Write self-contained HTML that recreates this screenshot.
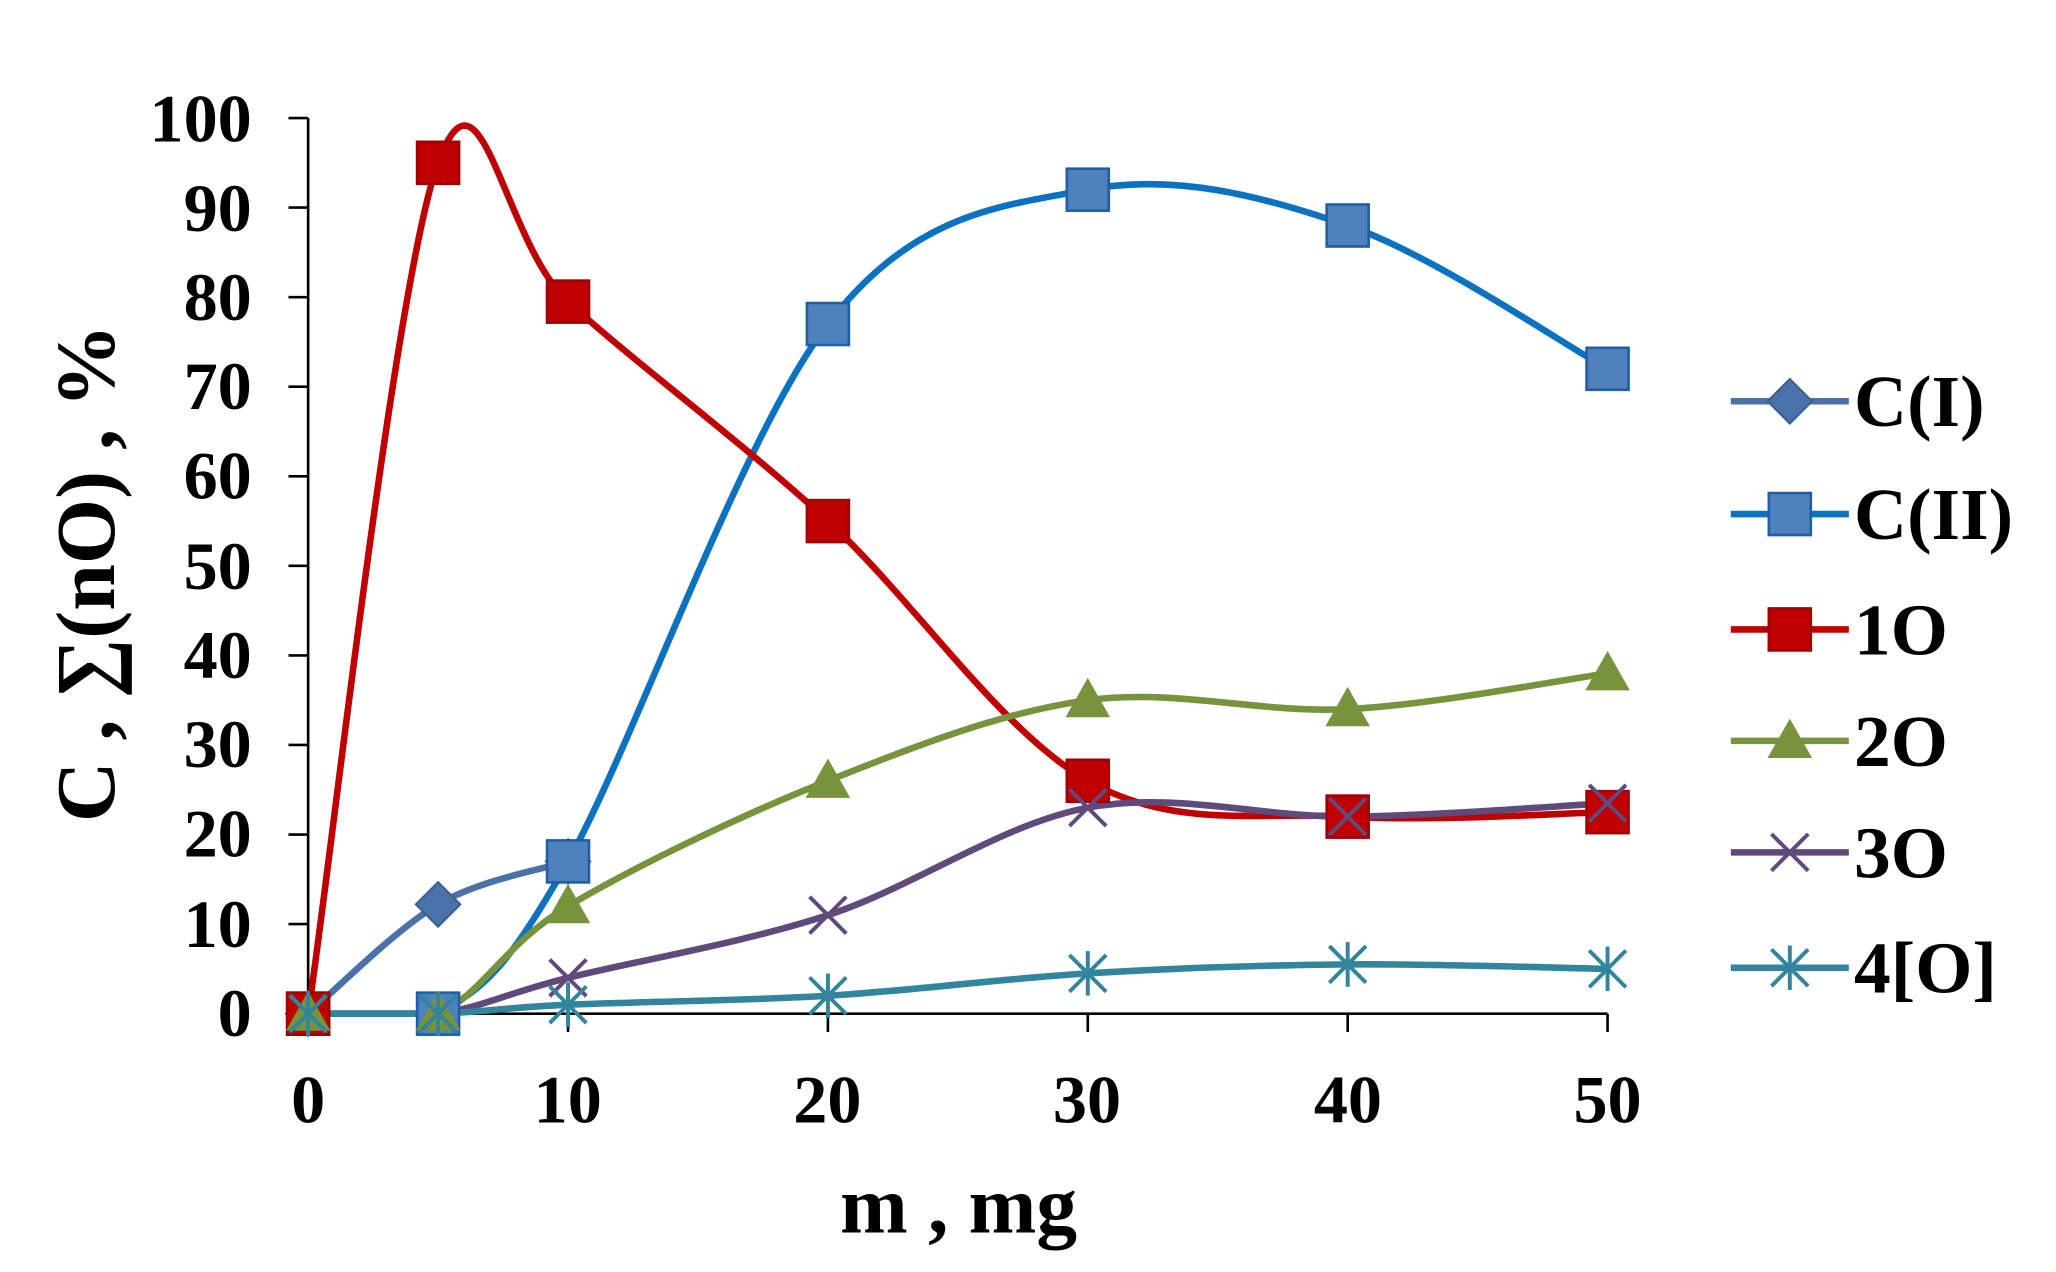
<!DOCTYPE html>
<html><head><meta charset="utf-8"><style>html,body{margin:0;padding:0;background:#fff}svg{display:block}</style></head>
<body>
<svg id="s" width="2056" height="1272" viewBox="0 0 1568 970" preserveAspectRatio="none" xmlns="http://www.w3.org/2000/svg" font-family="'Liberation Serif',serif" font-weight="bold">
<rect width="1568" height="970" fill="#fff"/>
<g stroke="#000" stroke-width="2">
<line x1="235" y1="90" x2="235" y2="773"/>
<line x1="235" y1="773" x2="1226" y2="773"/>
<g id="ticks"></g>
</g>
<g font-size="52" text-anchor="end">
<text x="192" y="790">0</text><text x="192" y="722">10</text><text x="192" y="653">20</text><text x="192" y="585">30</text><text x="192" y="517">40</text><text x="192" y="449">50</text><text x="192" y="380">60</text><text x="192" y="312">70</text><text x="192" y="244">80</text><text x="192" y="176">90</text><text x="192" y="108">100</text>
</g>
<g font-size="52" text-anchor="middle">
<text x="235" y="856">0</text><text x="433" y="856">10</text><text x="631" y="856">20</text><text x="829" y="856">30</text><text x="1028" y="856">40</text><text x="1226" y="856">50</text>
</g>
<text x="731" y="940" font-size="62" text-anchor="middle">m , mg</text>
<text transform="translate(87,437) rotate(-90)" font-size="64" text-anchor="middle">C , ∑(nO) , %</text>
<g id="series"></g>
<g id="legend" font-size="56"></g>
</svg>
<script>
var NS="http://www.w3.org/2000/svg";
function X(v){return 235+v*19.82}function Y(v){return 773-v*6.83}
function el(t,a,p){var e=document.createElementNS(NS,t);for(var k in a)e.setAttribute(k,a[k]);p.appendChild(e);return e}
var tk=document.getElementById('ticks');
for(var i=0;i<=10;i++)el('line',{x1:220,x2:235,y1:Y(i*10),y2:Y(i*10)},tk);
[0,10,20,30,40,50].forEach(function(v){el('line',{x1:X(v),x2:X(v),y1:773,y2:787},tk)});
var xs=[0,5,10,20,30,40,50];
var S=[
 {n:'C(I)',c:'#4a72a8',m:'diamond',f:'#4a72a8',x:[0,5,10],y:[0,12.2,17]},
 {n:'C(II)',c:'#0a72c0',m:'square',f:'#4f81bd',x:xs,y:[0,0,17,77,92,88,72]},
 {n:'1O',c:'#c00000',m:'square',f:'#c00000',x:xs,y:[0,95,79.5,55,26,22,22.5]},
 {n:'2O',c:'#77933c',m:'tri',f:'#77933c',x:xs,y:[0,0,12,26,35,34,38]},
 {n:'3O',c:'#5f4a7b',m:'x',f:'#5f4a7b',x:xs,y:[0,0,4,11,23,22,23.5]},
 {n:'4[O]',c:'#31859c',m:'star',f:'#31859c',x:xs,y:[0,0,1,2,4.5,5.5,5]}
];
function path(P){var d='M'+P[0][0]+','+P[0][1];for(var i=0;i<P.length-1;i++){var p0=P[i-1]||P[i],p1=P[i],p2=P[i+1],p3=P[i+2]||p2;var t=1/6;
 if(p1[1]==p2[1]){d+=' L'+p2[0]+','+p2[1];continue;}
 d+=' C'+(p1[0]+(p2[0]-p0[0])*t)+','+(p1[1]+(p2[1]-p0[1])*t)+' '+(p2[0]-(p3[0]-p1[0])*t)+','+(p2[1]-(p3[1]-p1[1])*t)+' '+p2[0]+','+p2[1];}return d}
function marker(g,s,x,y){var a=16;
 if(s.m=='square')el('rect',{x:x-a,y:y-a,width:2*a,height:2*a,fill:s.f,stroke:s.n=='C(II)'?'#1f5fa8':'#a00000','stroke-width':2},g);
 else if(s.m=='diamond')el('polygon',{points:[x,y-17,x+17,y,x,y+17,x-17,y].join(','),fill:s.f,stroke:'#3a5f90','stroke-width':1.5},g);
 else if(s.m=='tri')el('polygon',{points:[x,y-17,x+17,y+13,x-17,y+13].join(','),fill:s.f},g);
 else if(s.m=='x'){var b=14;el('path',{d:'M'+(x-b)+','+(y-b)+'L'+(x+b)+','+(y+b)+'M'+(x-b)+','+(y+b)+'L'+(x+b)+','+(y-b),stroke:s.f,'stroke-width':3},g)}
 else{var b=14;el('path',{d:'M'+(x-b)+','+(y-b)+'L'+(x+b)+','+(y+b)+'M'+(x-b)+','+(y+b)+'L'+(x+b)+','+(y-b)+'M'+x+','+(y-17)+'L'+x+','+(y+17),stroke:s.f,'stroke-width':3},g)}}
var g=document.getElementById('series');
S.forEach(function(s){var P=s.x.map(function(v,i){return[X(v),Y(s.y[i])]});el('path',{d:path(P),fill:'none',stroke:s.c,'stroke-width':5},g);});
S.forEach(function(s){s.x.forEach(function(v,i){marker(g,s,X(v),Y(s.y[i]))})});
var lg=document.getElementById('legend'),ly=[306,392,480,565,650,738];
S.forEach(function(s,i){el('line',{x1:1320,x2:1410,y1:ly[i],y2:ly[i],stroke:s.c,'stroke-width':5},lg);marker(lg,s,1365,ly[i]);var t=el('text',{x:1414,y:ly[i]+19},lg);t.textContent=s.n;});
</script>
</body></html>
